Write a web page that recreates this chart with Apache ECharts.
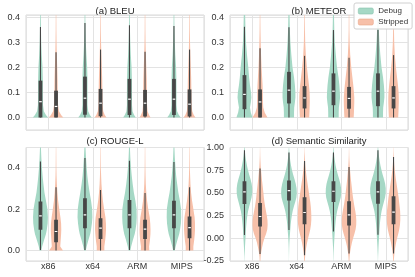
<!DOCTYPE html>
<html><head><meta charset="utf-8">
<script src="https://cdn.jsdelivr.net/npm/echarts@6/dist/echarts.min.js"></script>
<style>html,body{margin:0;padding:0;background:#fff}#c{width:415px;height:277px}</style>
</head><body><div id="c"></div>
<script>
const categories = ['x86', 'x64', 'ARM', 'MIPS'];
const hues = ['Debug', 'Stripped'];
const panelTitles = ['(a) BLEU', '(b) METEOR', '(c) ROUGE-L', '(d) Semantic Similarity'];
const yTicksA = [0.0, 0.1, 0.2, 0.3, 0.4];
const yTicksC = [0.0, 0.2, 0.4];
const yTicksD = [-0.25, 0.0, 0.25, 0.5, 0.75, 1.0];

// ---- (a) BLEU: violin profile levels, relative half-widths per arch, box stats [lo,q1,med,q3,hi]
const bleuLevels = [0, 0.01, 0.025, 0.05, 0.1, 0.15, 0.2, 0.25, 0.3, 0.35, 0.41, 0.6];
const bleuDebugWidths = [
  [0.9, 0.65, 0.4, 0.3, 0.28, 0.28, 0.24, 0.15, 0.09, 0.06, 0.04, 0.02],
  [0.8, 0.58, 0.38, 0.3, 0.3, 0.3, 0.26, 0.17, 0.1, 0.06, 0.04, 0.02],
  [0.75, 0.55, 0.36, 0.3, 0.3, 0.29, 0.25, 0.16, 0.1, 0.06, 0.04, 0.02],
  [0.8, 0.58, 0.37, 0.3, 0.3, 0.29, 0.25, 0.16, 0.1, 0.06, 0.04, 0.02]
];
const bleuStrippedWidths = [
  [0.86, 0.6, 0.35, 0.24, 0.2, 0.18, 0.14, 0.09, 0.06, 0.04, 0.03, 0.02],
  [0.7, 0.5, 0.32, 0.24, 0.22, 0.2, 0.15, 0.1, 0.06, 0.04, 0.03, 0.02],
  [0.65, 0.48, 0.3, 0.24, 0.22, 0.2, 0.15, 0.1, 0.06, 0.04, 0.03, 0.02],
  [0.7, 0.5, 0.32, 0.24, 0.22, 0.2, 0.15, 0.1, 0.06, 0.04, 0.03, 0.02]
];
const bleuDebugBox = [[0, 0, 0.063, 0.147, 0.361], [0, 0.011, 0.077, 0.163, 0.377], [0, 0.01, 0.073, 0.154, 0.368], [0, 0.01, 0.073, 0.154, 0.365]];
const bleuStrippedBox = [[0, 0, 0.044, 0.107, 0.26], [0, 0.005, 0.057, 0.114, 0.271], [0, 0.004, 0.057, 0.11, 0.262], [0, 0.004, 0.053, 0.112, 0.271]];

// ---- (b) METEOR
const meteorLevels = [0, 0.02, 0.04, 0.06, 0.08, 0.1, 0.13, 0.16, 0.2, 0.25, 0.3, 0.35, 0.41, 0.6];
const meteorDebugWidths = [
  [0.95, 0.75, 0.65, 0.75, 0.82, 0.78, 0.65, 0.55, 0.45, 0.3, 0.18, 0.12, 0.08, 0.03],
  [0.6, 0.6, 0.62, 0.7, 0.76, 0.76, 0.7, 0.6, 0.42, 0.28, 0.17, 0.1, 0.07, 0.03],
  [0.62, 0.62, 0.64, 0.72, 0.78, 0.76, 0.7, 0.6, 0.42, 0.28, 0.16, 0.1, 0.06, 0.03],
  [0.6, 0.6, 0.62, 0.7, 0.76, 0.76, 0.7, 0.6, 0.42, 0.28, 0.17, 0.1, 0.07, 0.03]
];
const meteorStrippedWidths = [
  [0.88, 0.55, 0.38, 0.35, 0.34, 0.33, 0.3, 0.25, 0.18, 0.12, 0.08, 0.05, 0.03, 0.02],
  [0.55, 0.58, 0.6, 0.62, 0.62, 0.6, 0.52, 0.42, 0.28, 0.15, 0.08, 0.05, 0.03, 0.02],
  [0.55, 0.58, 0.6, 0.62, 0.62, 0.58, 0.5, 0.4, 0.26, 0.14, 0.07, 0.04, 0.03, 0.02],
  [0.55, 0.58, 0.6, 0.62, 0.62, 0.6, 0.52, 0.42, 0.28, 0.15, 0.08, 0.05, 0.03, 0.02]
];
const meteorDebugBox = [[0, 0.033, 0.092, 0.169, 0.362], [0, 0.056, 0.109, 0.182, 0.36], [0, 0.049, 0.105, 0.176, 0.349], [0, 0.045, 0.105, 0.176, 0.349]];
const meteorStrippedBox = [[0, 0, 0.062, 0.112, 0.276], [0, 0.036, 0.078, 0.125, 0.246], [0, 0.035, 0.076, 0.122, 0.238], [0, 0.036, 0.078, 0.125, 0.249]];

// ---- (c) ROUGE-L
const rougeLevels = [0, 0.02, 0.05, 0.08, 0.1, 0.13, 0.16, 0.2, 0.24, 0.28, 0.32, 0.36, 0.4, 0.45, 0.5, 0.6];
const rougeDebugWidths = [
  [0.1, 0.2, 0.42, 0.65, 0.75, 0.85, 0.88, 0.82, 0.65, 0.47, 0.35, 0.25, 0.17, 0.1, 0.05, 0.02],
  [0.1, 0.2, 0.4, 0.62, 0.72, 0.82, 0.88, 0.85, 0.72, 0.55, 0.4, 0.28, 0.2, 0.12, 0.06, 0.02],
  [0.1, 0.2, 0.4, 0.62, 0.72, 0.82, 0.86, 0.84, 0.7, 0.52, 0.38, 0.27, 0.18, 0.1, 0.05, 0.02],
  [0.1, 0.2, 0.4, 0.62, 0.72, 0.82, 0.86, 0.84, 0.7, 0.52, 0.38, 0.26, 0.18, 0.1, 0.05, 0.02]
];
const rougeStrippedWidths = [
  [0.82, 0.5, 0.55, 0.6, 0.62, 0.6, 0.52, 0.38, 0.25, 0.16, 0.1, 0.06, 0.04, 0.03, 0.02, 0.02],
  [0.45, 0.45, 0.55, 0.62, 0.65, 0.64, 0.58, 0.42, 0.28, 0.18, 0.11, 0.07, 0.04, 0.03, 0.02, 0.02],
  [0.5, 0.48, 0.58, 0.64, 0.65, 0.62, 0.55, 0.38, 0.24, 0.15, 0.09, 0.06, 0.04, 0.03, 0.02, 0.02],
  [0.45, 0.45, 0.55, 0.62, 0.65, 0.65, 0.6, 0.45, 0.3, 0.18, 0.11, 0.07, 0.04, 0.03, 0.02, 0.02]
];
const rougeDebugBox = [[0.003, 0.1, 0.167, 0.236, 0.429], [0.003, 0.108, 0.172, 0.252, 0.445], [0.003, 0.108, 0.172, 0.244, 0.432], [0.003, 0.108, 0.172, 0.24, 0.426]];
const rougeStrippedBox = [[0, 0.04, 0.092, 0.148, 0.305], [0, 0.056, 0.108, 0.156, 0.292], [0, 0.056, 0.103, 0.148, 0.277], [0, 0.06, 0.111, 0.164, 0.305]];

// ---- (d) Semantic Similarity
const semLevels = [-0.25, -0.2, -0.15, -0.1, -0.05, 0, 0.05, 0.1, 0.15, 0.2, 0.25, 0.3, 0.35, 0.4, 0.45, 0.5, 0.55, 0.6, 0.65, 0.7, 0.75, 0.8, 0.85, 0.9, 0.95, 1.0, 1.05];
const semDebugWidths = [
  [0.01, 0.02, 0.04, 0.06, 0.09, 0.12, 0.15, 0.18, 0.22, 0.27, 0.34, 0.43, 0.56, 0.7, 0.84, 0.92, 0.92, 0.85, 0.72, 0.56, 0.42, 0.3, 0.2, 0.12, 0.06, 0.03, 0.01],
  [0.005, 0.01, 0.02, 0.03, 0.05, 0.08, 0.12, 0.16, 0.2, 0.26, 0.34, 0.44, 0.58, 0.74, 0.88, 0.93, 0.9, 0.8, 0.66, 0.5, 0.36, 0.25, 0.16, 0.09, 0.05, 0.02, 0.01],
  [0.01, 0.02, 0.03, 0.05, 0.08, 0.11, 0.14, 0.18, 0.22, 0.27, 0.34, 0.44, 0.57, 0.72, 0.86, 0.92, 0.9, 0.82, 0.68, 0.52, 0.38, 0.26, 0.17, 0.1, 0.05, 0.02, 0.01],
  [0.01, 0.02, 0.04, 0.06, 0.09, 0.12, 0.15, 0.18, 0.22, 0.27, 0.34, 0.43, 0.56, 0.7, 0.84, 0.92, 0.92, 0.85, 0.72, 0.56, 0.42, 0.3, 0.2, 0.12, 0.06, 0.03, 0.01]
];
const semStrippedWidths = [
  [0.04, 0.07, 0.14, 0.24, 0.36, 0.52, 0.72, 0.86, 0.9, 0.88, 0.8, 0.7, 0.6, 0.52, 0.45, 0.4, 0.34, 0.28, 0.22, 0.17, 0.12, 0.08, 0.05, 0.03, 0.02, 0.01, 0.005],
  [0.04, 0.07, 0.12, 0.2, 0.3, 0.42, 0.56, 0.68, 0.76, 0.8, 0.8, 0.78, 0.74, 0.68, 0.6, 0.52, 0.44, 0.36, 0.28, 0.21, 0.15, 0.1, 0.06, 0.04, 0.02, 0.01, 0.005],
  [0.04, 0.07, 0.13, 0.22, 0.34, 0.48, 0.64, 0.78, 0.85, 0.86, 0.82, 0.74, 0.64, 0.55, 0.47, 0.4, 0.34, 0.28, 0.22, 0.17, 0.12, 0.08, 0.05, 0.03, 0.02, 0.01, 0.005],
  [0.04, 0.07, 0.12, 0.2, 0.3, 0.42, 0.56, 0.68, 0.76, 0.8, 0.8, 0.78, 0.72, 0.66, 0.6, 0.52, 0.44, 0.36, 0.28, 0.21, 0.15, 0.1, 0.06, 0.04, 0.02, 0.01, 0.005]
];
const semDebugBox = [[0.037, 0.378, 0.511, 0.629, 0.97], [0.092, 0.415, 0.526, 0.637, 0.944], [0.074, 0.4, 0.518, 0.629, 0.944], [0.04, 0.381, 0.511, 0.629, 0.97]];
const semStrippedBox = [[-0.174, 0.129, 0.24, 0.389, 0.77], [-0.186, 0.156, 0.284, 0.451, 0.851], [-0.167, 0.14, 0.259, 0.407, 0.785], [-0.167, 0.156, 0.289, 0.463, 0.896]];

// ---- layout / style
const FONT = 'Liberation Sans, Arial, sans-serif';
const hueColors = ['#a5d8c5', '#f7c0a9'];
const hueEdge = ['#86c2ac', '#e8a488'];
const hueOffset = [-0.175, 0.175];
const boxColor = '#474747';

const panels = [
  { levels: bleuLevels, widths: [bleuDebugWidths, bleuStrippedWidths], boxes: [bleuDebugBox, bleuStrippedBox], yMin: -0.05, yMax: 0.409, ticks: yTicksA, dec: 1, grid: { left: 26, top: 15, width: 178, height: 115 }, xLabels: false },
  { levels: meteorLevels, widths: [meteorDebugWidths, meteorStrippedWidths], boxes: [meteorDebugBox, meteorStrippedBox], yMin: -0.05, yMax: 0.409, ticks: yTicksA, dec: 1, grid: { left: 230, top: 15, width: 178, height: 115 }, xLabels: false },
  { levels: rougeLevels, widths: [rougeDebugWidths, rougeStrippedWidths], boxes: [rougeDebugBox, rougeStrippedBox], yMin: -0.05, yMax: 0.496, ticks: yTicksC, dec: 1, grid: { left: 26, top: 147.5, width: 178, height: 113.5 }, xLabels: true },
  { levels: semLevels, widths: [semDebugWidths, semStrippedWidths], boxes: [semDebugBox, semStrippedBox], yMin: -0.25, yMax: 1.0, ticks: yTicksD, dec: 2, grid: { left: 230, top: 147.5, width: 178, height: 113.5 }, xLabels: true }
];

function makeRenderer(levels, widths, boxes, h) {
  return function (params, api) {
    const i = api.value(0);
    const band = api.size([1, 0])[0];
    const maxHalf = 0.19 * band;
    const xPos = i + hueOffset[h];
    const cx = api.coord([xPos, 0])[0];
    const w = widths[i];
    const right = [], left = [];
    for (let k = 0; k < levels.length; k++) {
      const y = api.coord([xPos, levels[k]])[1];
      const hw = w[k] * maxHalf;
      right.push([cx + hw, y]);
      left.unshift([cx - hw, y]);
    }
    const b = boxes[i];
    const Y = v => api.coord([xPos, v])[1];
    const yLo = Y(b[0]), yQ1 = Y(b[1]), yMed = Y(b[2]), yQ3 = Y(b[3]), yHi = Y(b[4]);
    return {
      type: 'group',
      children: [
        { type: 'polygon', shape: { points: right.concat(left) }, style: { fill: hueColors[h], stroke: null, lineWidth: 0 } },
        { type: 'line', shape: { x1: cx, y1: yLo, x2: cx, y2: yHi }, style: { stroke: boxColor, lineWidth: 1.1 } },
        { type: 'rect', shape: { x: cx - 1.9, y: yQ3, width: 3.8, height: Math.max(yQ1 - yQ3, 1) }, style: { fill: boxColor, stroke: null, lineWidth: 0 } },
        { type: 'rect', shape: { x: cx - 1.3, y: yMed - 0.6, width: 2.6, height: 1.2 }, style: { fill: '#ffffff', stroke: null, lineWidth: 0 } }
      ]
    };
  };
}

const grids = [], xAxes = [], yAxes = [], series = [];
panels.forEach((p, pi) => {
  grids.push(Object.assign({ show: true, borderColor: '#d9d9d9', borderWidth: 1, backgroundColor: '#fff' }, p.grid));
  xAxes.push({
    type: 'value', gridIndex: pi, min: -0.5, max: 3.5, splitNumber: 4,
    axisLine: { show: false }, axisTick: { show: false },
    splitLine: { show: true, lineStyle: { color: '#e3e3e3', width: 1 } },
    axisLabel: {
      show: p.xLabels, margin: 1, fontSize: 9, fontFamily: FONT, color: '#333',
      showMinLabel: false, showMaxLabel: false,
      formatter: v => (Math.abs(v - Math.round(v)) < 1e-6 && categories[Math.round(v)]) ? categories[Math.round(v)] : ''
    }
  });
  const yAx = {
    type: 'value', gridIndex: pi, min: p.yMin, max: p.yMax,
    axisLine: { show: false }, axisTick: { show: false },
    splitLine: { show: true, lineStyle: { color: '#e3e3e3', width: 1 } },
    axisLabel: {
      margin: 6, fontSize: 9, fontFamily: FONT, color: '#333',
      formatter: v => {
        const t = p.ticks.find(t => Math.abs(t - v) < 1e-6);
        return t === undefined ? '' : t.toFixed(p.dec);
      }
    }
  };
  if (pi === 3) { yAx.interval = 0.25; } else { yAx.splitNumber = pi === 2 ? 3 : 5; }
  yAxes.push(yAx);
  hues.forEach((hn, h) => {
    series.push({
      type: 'custom', name: hn, xAxisIndex: pi, yAxisIndex: pi, clip: true,
      itemStyle: { color: hueColors[h] },
      encode: { x: 0, y: 1 },
      data: categories.map((c, i) => [i, p.boxes[h][i][2]]),
      renderItem: makeRenderer(p.levels, p.widths[h], p.boxes[h], h)
    });
  });
});

const titlePos = [[115, 11.3], [319, 11.3], [115, 141.6], [319, 141.6]];
const chart = echarts.init(document.getElementById('c'), null, { renderer: 'canvas' });
chart.setOption({
  animation: false,
  color: hueColors,
  grid: grids, xAxis: xAxes, yAxis: yAxes, series: series,
  legend: {
    data: hues.map((h, i) => ({ name: h, itemStyle: { color: hueColors[i], borderColor: hueEdge[i], borderWidth: 0.6 } })),
    orient: 'vertical', left: 354, top: 3,
    itemWidth: 15, itemHeight: 6, itemGap: 3, padding: [4, 4, 3, 4],
    backgroundColor: 'rgba(255,255,255,0.9)', borderColor: '#d0d0d0', borderWidth: 1, borderRadius: 2,
    textStyle: { fontSize: 8, fontFamily: FONT, color: '#333' },
    selectedMode: false
  },
  graphic: panelTitles.map((t, i) => ({
    type: 'text', x: titlePos[i][0], y: titlePos[i][1], silent: true,
    style: { text: t, fontSize: 9.5, fontFamily: FONT, fill: '#222', align: 'center', verticalAlign: 'middle', textAlign: 'center', textVerticalAlign: 'middle' }
  }))
});
</script></body></html>
